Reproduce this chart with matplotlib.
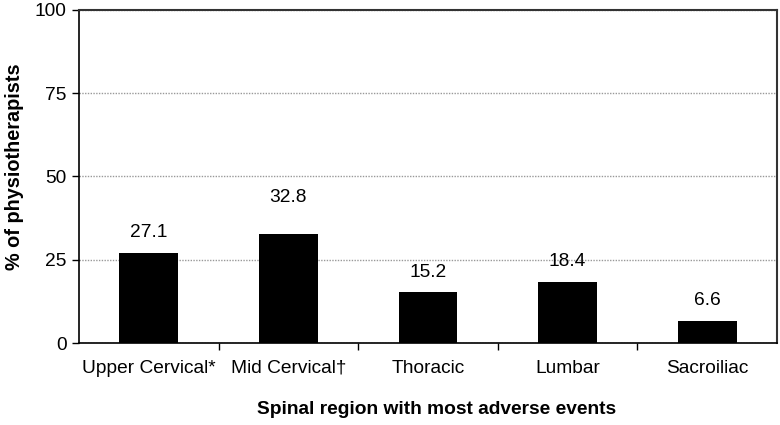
import matplotlib
matplotlib.use("Agg")
import matplotlib.pyplot as plt
import numpy as np

plt.rcParams['font.family'] = ['Liberation Sans', 'DejaVu Sans']

regions = ["Upper Cervical*", "Mid Cervical\u2020", "Thoracic", "Lumbar", "Sacroiliac"]
percent = [27.1, 32.8, 15.2, 18.4, 6.6]
yticks = [0, 25, 50, 75, 100]

fig = plt.figure(figsize=(7.8, 4.25), dpi=100)
ax = fig.add_axes([79 / 780, 82 / 425, 698 / 780, 333 / 425])

x = np.arange(len(regions))
ax.bar(x, percent, width=0.42, color="black", zorder=3)

# value labels above bars (Mid Cervical label sits higher in the original)
for i, v in enumerate(percent):
    off = 26 if i == 1 else 14.5
    ax.annotate(f"{v:.1f}", (x[i], v), xytext=(0, off), textcoords="offset points",
                ha="center", va="center", fontsize=13.8)

ax.set_xlim(-0.5, len(regions) - 0.5)
ax.set_ylim(0, 100)
ax.set_yticks(yticks)
ax.tick_params(axis="y", labelsize=13.8, length=5, width=1, direction="out", pad=4)

# major ticks between categories, labels at category centres
ax.set_xticks(np.arange(0.5, len(regions) - 0.5, 1.0))
ax.set_xticklabels([])
ax.set_xticks(x, minor=True)
ax.set_xticklabels(regions, minor=True, fontsize=13.8)
ax.tick_params(axis="x", which="major", length=5, width=1, direction="out")
ax.tick_params(axis="x", which="minor", length=0, pad=12)

ax.grid(axis="y", color="#999999", linestyle=(0, (1, 1)), linewidth=1, zorder=0)
for s in ["top", "right"]:
    ax.spines[s].set_color("#333333")
    ax.spines[s].set_linewidth(1.5)
for s in ["left", "bottom"]:
    ax.spines[s].set_color("black")
    ax.spines[s].set_linewidth(1.2)

ax.set_xlabel("Spinal region with most adverse events", fontsize=13.8,
              fontweight="bold", va="center")
ax.set_ylabel("% of physiotherapists", fontsize=14.3, fontweight="bold", va="center")
ax.xaxis.set_label_coords(0.512, -0.201)
ax.yaxis.set_label_coords(-0.092, 0.529)

fig.savefig("out.png", dpi=100)
